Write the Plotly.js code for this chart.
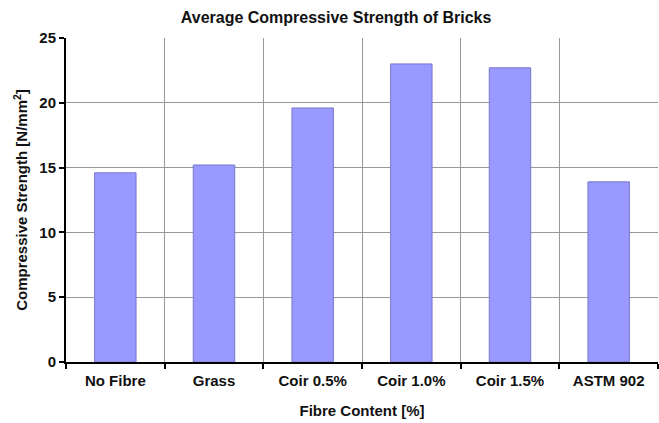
<!DOCTYPE html>
<html><head><meta charset="utf-8">
<script src="https://cdn.plot.ly/plotly-3.0.1.min.js"></script>
<style>html,body{margin:0;padding:0;background:#fff}#chart{width:659px;height:423px}</style>
</head><body><div id="chart"></div>
<script>
var categories = ["No Fibre", "Grass", "Coir 0.5%", "Coir 1.0%", "Coir 1.5%", "ASTM 902"];
var strengths = [14.6, 15.2, 19.6, 23.0, 22.7, 13.9];
var yTicks = [0, 5, 10, 15, 20, 25];

var F = "Liberation Sans, Arial, sans-serif";
Plotly.newPlot("chart", [{
  type: "bar", x: categories, y: strengths,
  marker: {color: "#9999ff", line: {color: "#7777cc", width: 1}},
  hoverinfo: "x+y"
}], {
  width: 659, height: 423,
  margin: {l: 66, r: 1, t: 38, b: 61},
  paper_bgcolor: "#fff", plot_bgcolor: "#fff",
  bargap: 0.58,
  title: {text: "<b>Average Compressive Strength of Bricks</b>", font: {family: F, size: 16, color: "#111"}, x: 0.51, xanchor: "center", y: 0.958, yanchor: "middle"},
  xaxis: {
    tickson: "boundaries", ticks: "outside", ticklen: 5, tickwidth: 2, tickcolor: "#000",
    showgrid: true, gridcolor: "#999", gridwidth: 1,
    showline: true, linecolor: "#000", linewidth: 2,
    ticklabelstandoff: 4,
    tickfont: {family: F, size: 15, color: "#111", weight: "bold"},
    title: {text: "<b>Fibre Content [%]</b>", font: {family: F, size: 15, color: "#111"}, standoff: 17}
  },
  yaxis: {
    range: [0, 25], tickvals: yTicks, ticks: "outside", ticklen: 5, tickwidth: 2, tickcolor: "#000",
    showgrid: true, gridcolor: "#999", gridwidth: 1,
    showline: true, linecolor: "#000", linewidth: 2, zeroline: false,
    tickfont: {family: F, size: 15, color: "#111", weight: "bold"},
    title: {text: "<b>Compressive Strength [N/mm<sup>2</sup>]</b>", font: {family: F, size: 15, color: "#111"}, standoff: 8}
  },
  showlegend: false
}, {displayModeBar: false});
</script></body></html>
